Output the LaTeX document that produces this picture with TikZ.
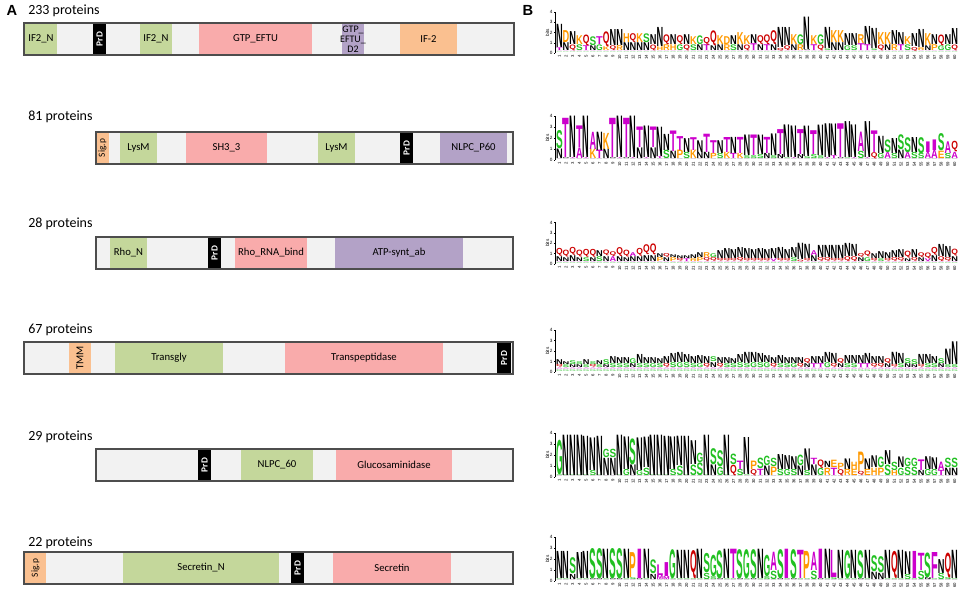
\documentclass[tikz,border=0pt]{standalone}
\usepackage{fontspec}
\setmainfont{Carlito}
\newfontfamily\lsans{Liberation Sans}
\usepackage{graphicx}

\definecolor{dgreen}{HTML}{C4D79B}
\definecolor{dpink}{HTML}{F9ABAB}
\definecolor{dorange}{HTML}{FAC090}
\definecolor{dpurple}{HTML}{B3A2C7}
\definecolor{barfill}{HTML}{F2F2F2}
\definecolor{barline}{HTML}{4D4D4D}
% residue colours of the logos
\colorlet{lcN}{black}
\definecolor{lcQ}{HTML}{CC0000}
\definecolor{lcS}{HTML}{22C022}
\colorlet{lcG}{lcS}
\colorlet{lcC}{lcS}
\colorlet{lcY}{lcS}
\definecolor{lcT}{HTML}{CC00CC}
\colorlet{lcA}{lcT}
\colorlet{lcI}{lcT}
\colorlet{lcL}{lcT}
\colorlet{lcF}{lcT}
\colorlet{lcM}{lcT}
\colorlet{lcV}{lcT}
\colorlet{lcW}{lcT}
\definecolor{lcK}{HTML}{FF9900}
\colorlet{lcR}{lcK}
\colorlet{lcH}{lcK}
\colorlet{lcD}{lcK}
\colorlet{lcE}{lcK}
\colorlet{lcP}{lcK}

\tikzset{
  panel/.style={font=\fontsize{11}{11}\selectfont\lsans\bfseries, inner sep=0},
  heading/.style={font=\fontsize{10.5}{12}\selectfont, anchor=west, inner sep=0},
  barframe/.style={draw=barline, line width=0.9pt},
  domlbl/.style={font=\fontsize{8}{8}\selectfont, inner sep=0},
  rotlbl/.style={font=\fontsize{7}{7}\selectfont, rotate=90, inner sep=0},
  prdlbl/.style={text=white, font=\fontsize{7}{7}\selectfont\bfseries, rotate=90, inner sep=0},
  logoaxis/.style={black, line width=0.3pt},
  ticklbl/.style={font=\fontsize{3.5}{4}\selectfont\lsans, anchor=east, inner sep=0},
  bitslbl/.style={font=\fontsize{3.5}{4}\selectfont\lsans, rotate=90, inner sep=0},
  poslbl/.style={font=\fontsize{3.2}{4}\selectfont\lsans, rotate=90, anchor=east, inner sep=0},
  lgl/.style={inner sep=0, outer sep=0, anchor=south west, font=\lsans\bfseries}
}

% one protein bar: name, x1, ytop, x2
\newcommand{\protbar}[4]{%
  \fill[barfill] (#2,#3) rectangle (#4,#3+32);
  \coordinate (#1) at (#2,#3);
}
% domain: [label style] name, colour, x1, x2, ytop, label
\newcommand{\dom}[7][domlbl]{%
  \fill[#3] (#4,#6+1) rectangle (#5,#6+31);
  \node[#1] (#2) at ({(#4+#5)/2},#6+16) {#7};
}
% sequence logo: id, zero line, px per bit, residual bits, columns
\newcommand{\seqlogo}[5]{%
  \draw[logoaxis] (555,#2) -- (555,{#2-4*#3});
  \foreach \k in {0,...,4}{
    \draw[logoaxis] (555,{#2-\k*#3}) -- (553.5,{#2-\k*#3});
    \node[ticklbl] (#1t\k) at (552.8,{#2-\k*#3}) {\k};
  }
  \node[bitslbl] (#1bits) at (547.5,{#2-2*#3}) {bits};
  \foreach \ta/\ha/\tb/\hb [count=\i] in {#5}{
    \pgfmathsetmacro\xx{556+(\i-1)*6.7}
    \pgfmathsetmacro\rh{max(#4*#3*0.75*0.5-0.3,0.5)}
    \pgfmathsetmacro\hbh{max(\hb*#3*0.75-0.3,0.5)}
    \pgfmathsetmacro\hah{max(\ha*#3*0.75-0.3,0.5)}
    \pgfmathsetmacro\ym{#2-#4*#3*0.5}
    \pgfmathsetmacro\yb{#2-#4*#3}
    \pgfmathsetmacro\ya{#2-(#4+\hb)*#3}
    \node[lgl, text=lcG!55] (#1r\i) at (\xx,#2) {\resizebox*{5pt}{\rh pt}{G}};
    \node[lgl, text=lcA!40] (#1s\i) at (\xx,\ym) {\resizebox*{5pt}{\rh pt}{A}};
    \node[lgl, text=lc\tb] (#1b\i) at (\xx,\yb) {\resizebox*{5pt}{\hbh pt}{\tb}};
    \node[lgl, text=lc\ta] (#1a\i) at (\xx,\ya) {\resizebox*{5pt}{\hah pt}{\ta}};
    \node[poslbl] (#1n\i) at (\xx+3.35,#2+1.5) {\i};
  }
}

\begin{document}
\begin{tikzpicture}[x=0.75pt,y=0.75pt,yscale=-1,xscale=1]
\useasboundingbox (0,0) rectangle (964,594);

% ---------------- panel A ----------------
\node[panel] (pA) at (12,10) {A};

% 233 proteins
\node[heading] (h1) at (28,11) {233 proteins};
\protbar{bar1}{24}{23}{514}
\dom{d11}{dgreen}{25}{57}{23}{IF2\_N}
\dom[prdlbl]{d12}{black}{93}{106}{23}{PrD}
\dom{d13}{dgreen}{140}{172}{23}{IF2\_N}
\dom{d14}{dpink}{199}{312}{23}{GTP\_EFTU}
\dom[domlbl,align=center,font=\fontsize{7.5}{7.5}\selectfont]{d15}{dpurple}{342}{364}{23}{GTP\_\\EFTU\_\\D2}
\dom{d16}{dorange}{400}{457}{23}{IF-2}
\draw[barframe] (bar1) rectangle ++(490,32);

% 81 proteins
\node[heading] (h2) at (28,117) {81 proteins};
\protbar{bar2}{96}{132}{513}
\dom[rotlbl]{d21}{dorange}{96}{109}{132}{Sig.p}
\dom{d22}{dgreen}{120}{157}{132}{LysM}
\dom{d23}{dpink}{186}{267}{132}{SH3\_3}
\dom{d24}{dgreen}{318}{355}{132}{LysM}
\dom[prdlbl]{d25}{black}{400}{413}{132}{PrD}
\dom{d26}{dpurple}{440}{507}{132}{NLPC\_P60}
\draw[barframe] (bar2) rectangle ++(417,32);

% 28 proteins
\node[heading] (h3) at (28,224) {28 proteins};
\protbar{bar3}{96}{237}{513}
\dom{d31}{dgreen}{110}{147}{237}{Rho\_N}
\dom[prdlbl]{d32}{black}{208}{221}{237}{PrD}
\dom{d33}{dpink}{235}{307}{237}{Rho\_RNA\_bind}
\dom{d34}{dpurple}{335}{463}{237}{ATP-synt\_ab}
\draw[barframe] (bar3) rectangle ++(417,32);

% 67 proteins
\node[heading] (h4) at (28,330) {67 proteins};
\protbar{bar4}{24}{342}{513}
\dom[rotlbl,font=\fontsize{8}{8}\selectfont]{d41}{dorange}{69}{91}{342}{TMM}
\dom{d42}{dgreen}{115}{223}{342}{Transgly}
\dom{d43}{dpink}{285}{443}{342}{Transpeptidase}
\dom[prdlbl]{d44}{black}{497}{511}{342}{PrD}
\draw[barframe] (bar4) rectangle ++(489,32);

% 29 proteins
\node[heading] (h5) at (28,437) {29 proteins};
\protbar{bar5}{96}{449}{513}
\dom[prdlbl]{d51}{black}{198}{211}{449}{PrD}
\dom{d52}{dgreen}{241}{313}{449}{NLPC\_60}
\dom{d53}{dpink}{336}{452}{449}{Glucosaminidase}
\draw[barframe] (bar5) rectangle ++(417,32);

% 22 proteins
\node[heading] (h6) at (28,543) {22 proteins};
\protbar{bar6}{24}{552}{513}
\dom[rotlbl]{d61}{dorange}{25}{46}{552}{Sig.p}
\dom{d62}{dgreen}{123}{279}{552}{Secretin\_N}
\dom[prdlbl]{d63}{black}{291}{304}{552}{PrD}
\dom{d64}{dpink}{333}{451}{552}{Secretin}
\draw[barframe] (bar6) rectangle ++(489,32);

% ---------------- panel B ----------------
\node[panel] (pB) at (528,10) {B};

\seqlogo{L1}{53}{10.25}{0.2}{N/2.3/T/0.3, D/1.2/N/0.8, N/1.3/Q/0.6, K/0.9/S/0.6, Q/1.1/T/0.5, S/0.9/N/0.5, T/0.8/G/0.6, Q/1.5/K/0.4, N/1.6/Q/0.5, N/1.6/R/0.5,
H/0.9/N/0.8, Q/0.9/N/0.8, K/0.9/N/0.8, S/0.9/N/0.8, N/1.0/Q/0.6, N/1.9/H/0.4, Q/1.0/R/0.6, N/1.0/H/0.6, Q/0.9/G/0.6, N/1.0/Q/0.6,
K/0.8/S/0.6, G/0.9/N/0.6, Q/0.8/T/0.6, Q/1.5/N/0.5, K/0.9/N/0.6, D/0.8/R/0.6, N/0.9/S/0.6, K/1.2/N/0.6, K/0.9/Q/0.6, N/0.9/T/0.7,
Q/0.9/N/0.6, Q/1.0/T/0.6, Q/1.4/N/0.6, N/2.0/Q/0.3, N/1.8/Q/0.5, K/1.0/N/0.6, G/1.0/R/0.6, N/3.2/N/0.1, K/0.9/T/0.6, G/1.0/Q/0.6,
N/2.1/S/0.2, K/1.2/N/0.8, K/1.2/N/0.8, N/1.2/G/0.5, N/1.2/S/0.5, R/0.9/T/0.7, N/1.8/T/0.6, N/2.0/S/0.2, K/1.2/Q/0.6, K/1.2/N/0.6,
N/1.4/R/0.6, N/1.2/T/0.6, K/0.8/S/0.6, N/1.3/Q/0.4, N/1.8/R/0.3, K/1.2/N/0.5, N/1.0/P/0.6, Q/1.1/G/0.5, N/1.0/G/0.6, N/1.6/Q/0.6}

\seqlogo{L2}{160}{11}{0.1}{S/1.7/N/0.9, T/3.6/N/0.1, N/3.8/T/0.1, T/2.0/A/1.0, N/3.8/T/0.1, A/1.6/K/0.9, N/1.7/T/0.8, K/1.5/N/0.9, T/3.6/N/0.1, N/3.8/T/0.1,
T/3.6/N/0.1, N/3.8/T/0.1, T/1.9/N/1.0, N/2.9/T/0.1, T/1.9/N/1.0, N/2.7/T/0.2, N/1.5/S/0.8, T/1.9/N/0.7, T/1.3/P/0.8, N/1.3/S/0.6,
T/1.2/K/0.8, N/1.1/N/0.6, T/1.7/N/0.6, T/1.2/P/0.5, N/1.2/S/0.5, T/1.4/K/0.6, N/1.5/T/0.5, T/1.5/K/0.5, N/1.9/S/0.3, T/1.9/S/0.3,
N/1.8/S/0.4, T/1.5/N/0.5, N/2.0/S/0.3, T/2.3/N/0.4, N/3.0/S/0.1, N/2.9/T/0.1, T/2.3/N/0.4, N/2.8/S/0.2, T/2.2/S/0.4, N/2.8/S/0.3,
N/3.1/T/0.1, N/2.9/T/0.3, T/3.1/N/0.1, N/3.3/S/0.1, N/3.0/T/0.1, A/1.8/S/0.7, N/3.3/T/0.1, T/2.0/Q/0.6, N/1.6/G/0.5, S/1.2/A/0.6,
N/1.4/S/0.5, S/1.4/N/0.8, S/1.4/A/0.6, N/1.4/S/0.6, S/1.5/S/0.5, I/1.0/A/0.6, I/1.0/A/0.8, S/1.6/E/0.7, A/1.1/S/0.5, Q/1.0/A/0.6}

\seqlogo{L3}{264}{10.4}{0.25}{Q/0.8/N/0.5, Q/0.7/N/0.4, Q/0.8/N/0.6, Q/0.7/N/0.4, Q/0.8/S/0.4, Q/0.8/N/0.4, N/0.6/S/0.5, Q/0.6/N/0.5, Q/0.5/A/0.5, Q/0.9/N/0.5,
Q/0.7/N/0.4, A/0.4/N/0.5, Q/0.8/N/0.5, Q/1.0/N/0.6, Q/1.1/N/0.6, N/0.4/P/0.4, Q/0.4/N/0.4, N/0.3/P/0.4, N/0.3/Q/0.3, N/0.3/T/0.3,
N/0.4/R/0.3, N/0.5/P/0.4, R/0.5/Q/0.4, G/0.4/Q/0.4, N/0.8/Q/0.3, N/1.0/Q/0.3, N/0.9/Q/0.3, N/1.0/Q/0.4, N/1.0/Q/0.3, N/0.9/Q/0.3,
N/1.0/Q/0.3, N/0.9/Q/0.3, N/1.0/V/0.3, N/1.1/Q/0.3, N/0.9/Q/0.3, N/1.0/S/0.4, N/1.6/Q/0.2, N/1.4/Q/0.3, A/0.5/N/0.6, N/1.2/Q/0.4,
N/1.2/Q/0.4, N/1.3/Q/0.3, N/1.3/Q/0.3, N/1.3/Q/0.5, N/1.2/Q/0.5, Q/0.4/N/0.4, Q/0.6/G/0.4, N/0.5/Q/0.3, N/0.7/S/0.3, N/0.6/Q/0.3,
N/0.7/Q/0.4, N/0.8/Q/0.4, Q/0.7/N/0.3, N/0.8/Q/0.4, Q/0.5/N/0.4, Q/0.6/V/0.3, Q/0.8/N/0.6, N/1.2/Q/0.5, N/1.1/Q/0.4, Q/0.7/N/0.5}

\seqlogo{L4}{372}{10.5}{0.45}{N/0.5/Q/0.3, N/0.3/S/0.3, S/0.4/N/0.3, S/0.3/N/0.3, N/0.5/S/0.3, S/0.3/Q/0.3, N/0.4/S/0.3, S/0.5/N/0.3, N/0.7/S/0.4, N/0.6/S/0.4,
N/0.6/S/0.4, G/0.5/N/0.4, N/0.9/S/0.4, N/0.6/S/0.4, N/0.6/G/0.4, N/0.5/S/0.4, N/0.7/Q/0.4, N/0.9/S/0.5, N/1.0/G/0.5, N/0.8/S/0.5,
N/0.7/S/0.4, N/0.8/G/0.4, N/0.7/Q/0.4, S/0.5/N/0.5, N/0.6/Q/0.4, N/0.6/S/0.4, N/0.5/S/0.4, N/0.8/S/0.5, N/1.1/S/0.4, N/1.0/G/0.5,
N/0.9/S/0.5, N/0.7/G/0.5, N/0.6/Q/0.4, N/0.8/S/0.4, N/0.6/S/0.4, N/0.6/G/0.4, N/0.6/Q/0.4, Q/0.5/N/0.4, N/0.7/T/0.4, N/0.7/T/0.4,
N/1.0/G/0.5, N/1.0/Q/0.4, Q/0.5/N/0.4, N/0.8/S/0.4, N/0.8/S/0.4, N/0.8/T/0.4, N/1.0/T/0.4, N/0.7/Q/0.4, N/0.7/Q/0.4, Q/0.5/N/0.4,
N/1.2/Q/0.3, N/1.0/S/0.4, S/0.5/N/0.4, S/0.5/N/0.3, N/1.0/Q/0.3, N/0.9/S/0.4, N/0.7/S/0.4, S/0.5/N/0.4, N/1.5/S/0.3, N/2.2/S/0.3}

\seqlogo{L5}{477}{11}{0.12}{G/3.2/S/0.1, N/3.7/S/0.06, N/3.7/S/0.06, N/3.7/S/0.06, N/3.6/S/0.06, N/3.0/S/0.5, N/3.6/S/0.06, G/0.8/N/1.6, S/0.8/N/1.6, N/3.7/S/0.06,
N/3.0/G/0.6, S/2.4/N/1.0, N/3.0/G/0.5, N/2.8/S/0.7, N/3.7/S/0.06, N/3.7/S/0.06, N/3.6/S/0.06, N/3.0/S/0.6, N/2.7/S/0.9, N/3.6/S/0.06,
N/2.2/S/1.0, G/0.9/S/1.2, N/3.7/S/0.06, S/1.5/N/1.0, S/1.5/G/0.8, N/3.7/S/0.06, S/1.0/Q/1.0, T/0.8/S/0.6, N/3.4/S/0.1, P/0.8/Q/0.6,
S/1.0/T/0.6, G/0.9/N/0.9, S/0.8/P/0.8, N/1.4/S/0.6, N/1.3/G/0.6, N/1.2/S/0.6, G/1.0/N/0.9, N/2.0/S/0.5, T/0.6/N/1.0, Q/0.8/G/0.7,
N/0.6/R/0.7, E/0.7/T/0.7, P/0.6/Q/0.6, N/1.0/R/0.6, H/0.7/E/0.6, P/1.8/Q/0.4, N/1.0/E/0.6, N/1.1/H/0.7, G/1.0/P/0.7, N/1.3/S/1.0,
S/0.8/H/0.5, N/1.0/G/0.7, G/0.8/S/0.8, G/0.8/S/0.8, T/1.0/N/0.5, N/1.2/G/0.6, N/1.1/G/0.6, A/0.8/T/0.5, S/0.9/N/0.7, S/0.9/N/0.7}

\seqlogo{L6}{581}{11}{0.12}{N/2.5/S/0.1, N/2.5/S/0.1, S/1.5/N/0.5, N/2.4/S/0.1, N/2.5/S/0.1, S/2.8/N/0.1, S/2.8/N/0.1, N/2.7/S/0.1, S/2.8/N/0.1, S/2.8/N/0.1,
N/2.7/S/0.1, P/2.3/S/0.2, I/2.7/N/0.1, N/2.7/S/0.1, S/1.3/N/0.5, L/1.0/M/0.4, I/1.3/M/0.3, G/2.7/S/0.1, N/2.6/S/0.1, N/2.6/S/0.1,
Q/2.6/S/0.1, N/2.7/S/0.1, S/1.8/S/0.6, G/2.0/S/0.3, S/2.6/N/0.1, N/2.7/S/0.1, T/2.7/S/0.1, S/2.7/N/0.1, G/2.7/S/0.1, S/2.7/N/0.1,
N/2.7/S/0.1, G/2.0/S/0.3, A/1.7/S/0.8, S/2.7/N/0.1, I/2.7/S/0.1, S/2.7/N/0.1, T/2.6/S/0.1, P/2.5/S/0.1, A/1.7/S/0.8, I/2.7/N/0.1,
N/2.7/S/0.1, L/2.5/S/0.2, N/2.6/S/0.1, G/2.6/S/0.1, N/2.6/S/0.1, S/2.6/N/0.1, N/2.6/S/0.1, S/1.5/N/0.7, S/1.5/N/0.6, N/2.6/S/0.1,
Q/2.5/S/0.1, N/2.6/S/0.1, N/2.1/S/0.5, I/2.5/S/0.1, T/1.6/S/0.8, S/2.3/N/0.2, F/2.4/S/0.1, N/1.3/S/0.6, Q/2.3/S/0.2, N/2.6/S/0.1}

\end{tikzpicture}
\end{document}
